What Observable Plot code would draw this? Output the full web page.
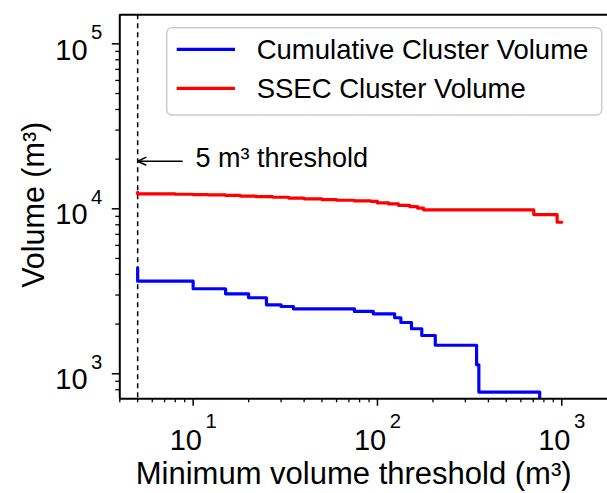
<!DOCTYPE html>
<html><head><meta charset="utf-8">
<script src="https://cdn.jsdelivr.net/npm/d3@7"></script>
<script src="https://cdn.jsdelivr.net/npm/@observablehq/plot@0.6"></script>
<style>
body{margin:0;background:#fff;}
#chart{position:relative;width:607px;height:493px;}
</style></head><body><div id="chart"></div>
<script>
// ---- data ----
const seriesNames = ["Cumulative Cluster Volume", "SSEC Cluster Volume"];
const seriesColors = ["#0000ff", "#ff0000"];
const cumX = [5, 5, 10, 15, 20, 25, 30, 35, 75, 95, 124, 134, 153, 174, 206, 345, 355, 759];
const cumY = [4385, 3640, 3275, 3054, 2890, 2619, 2557, 2477, 2387, 2310, 2185, 2045, 1875, 1706, 1489, 1134, 774, 600];
const ssecX = [5, 5, 8, 10, 12, 15, 18, 22, 27, 33, 40, 50, 60, 75, 92, 100, 115, 130, 150, 165, 178, 705, 944, 1000];
const ssecY = [12600, 12330, 12250, 12200, 12150, 12050, 11950, 11850, 11750, 11620, 11500, 11380, 11270, 11180, 11100, 10850, 10700, 10500, 10300, 10100, 9860, 9230, 8290, 8290];
const thresholdX = [5];
const xMajorTicks = [10, 100, 1000];
const xMinorTicks = [4, 5, 6, 7, 8, 9, 20, 30, 40, 50, 60, 70, 80, 90, 200, 300, 400, 500, 600, 700, 800, 900];
const yMajorTicks = [1000, 10000, 100000];
const yMinorTicks = [800, 900, 2000, 3000, 4000, 5000, 6000, 7000, 8000, 9000, 20000, 30000, 40000, 50000, 60000, 70000, 80000, 90000];
const xDomain = [4, 1771];
const yDomain = [705, 150000];
const xLabel = "Minimum volume threshold (m³)";
const yLabel = "Volume (m³)";
const annotation = [{text: "5 m³ threshold", x: 8.72, y: 19430, tipX: 5}];

const cum = cumX.map((x, i) => ({x, y: cumY[i]}));
const ssec = ssecX.map((x, i) => ({x, y: ssecY[i]}));
const FONT = "'Liberation Sans', Arial, Helvetica, sans-serif";

const sup = d => "10^" + Math.round(Math.log10(d));

const chart = Plot.plot({
  width: 607, height: 493,
  marginLeft: 119.3, marginRight: 0, marginTop: 14.3, marginBottom: 94.7,
  style: {fontFamily: FONT, fontSize: "28px", color: "black", background: "white", overflow: "visible"},
  x: {type: "log", domain: xDomain, label: null},
  y: {type: "log", domain: yDomain, label: null},
  marks: [
    Plot.ruleX(thresholdX, {stroke: "black", strokeWidth: 1.5, strokeDasharray: "5,4"}),
    Plot.line(cum, {x: "x", y: "y", curve: "step-after", stroke: seriesColors[0], strokeWidth: 3.2, clip: true}),
    Plot.line(ssec, {x: "x", y: "y", curve: "step-after", stroke: seriesColors[1], strokeWidth: 3.2, clip: true}),
    Plot.arrow(annotation, {x1: "x", y1: "y", x2: "tipX", y2: "y", stroke: "black", strokeWidth: 1.5, headLength: 9, headAngle: 50}),
    Plot.text(annotation, {x: "x", y: "y", text: "text", textAnchor: "start", dx: 13.3, dy: -2.6, fontSize: 27, fill: "black"}),
    Plot.axisX(xMinorTicks, {anchor: "bottom", tickSize: 4, strokeWidth: 1.3, fill: "none", tickFormat: () => "", label: null}),
    Plot.axisX(xMajorTicks, {anchor: "bottom", tickSize: 7.5, strokeWidth: 1.5, tickPadding: 23, fontSize: 29, tickFormat: sup, label: null}),
    Plot.axisY(yMinorTicks, {anchor: "left", tickSize: 4, strokeWidth: 1.3, fill: "none", tickFormat: () => "", label: null}),
    Plot.axisY(yMajorTicks, {anchor: "left", tickSize: 7.5, strokeWidth: 1.5, tickPadding: 10, fontSize: 29, tickFormat: sup, label: null}),
    Plot.ruleY([yDomain[1]], {stroke: "black", strokeWidth: 2}),
    Plot.ruleY([yDomain[0]], {stroke: "black", strokeWidth: 2}),
    Plot.ruleX([xDomain[0]], {stroke: "black", strokeWidth: 2}),
    Plot.text([xLabel], {frameAnchor: "bottom", text: d => d, dy: 85, dx: -10, lineAnchor: "bottom", textAnchor: "middle", fontSize: 31, fill: "black"}),
    Plot.text([yLabel], {frameAnchor: "left", text: d => d, rotate: -90, dx: -76.3, dy: -2, lineAnchor: "bottom", textAnchor: "middle", fontSize: 30.5, fill: "black"})
  ]
});

// superscript tick labels
const NS = "http://www.w3.org/2000/svg";
d3.select(chart).selectAll("text").each(function () {
  const m = /^10\^(\d+)$/.exec(this.textContent);
  if (!m) return;
  const isY = (this.parentNode.getAttribute("aria-label") || "").includes("y-axis");
  this.textContent = "";
  this.setAttribute("text-anchor", isY ? "end" : "middle");
  const a = document.createElementNS(NS, "tspan");
  a.textContent = "10";
  if (isY) a.setAttribute("dy", "6.4");
  const b = document.createElementNS(NS, "tspan");
  b.textContent = m[1];
  b.setAttribute("dy", isY ? "-20.5" : "-22");
  b.setAttribute("dx", "3.5");
  b.setAttribute("font-size", "20.3");
  this.appendChild(a);
  this.appendChild(b);
});

// legend
const lg = d3.select(chart).append("g").attr("font-family", FONT).attr("font-size", 27.5).attr("text-anchor", "start");
lg.append("rect").attr("x", 166.7).attr("y", 27.7).attr("width", 435).attr("height", 87.3).attr("rx", 5)
  .attr("fill", "white").attr("fill-opacity", 0.8).attr("stroke", "#cccccc").attr("stroke-width", 1.5);
seriesNames.forEach((name, i) => {
  const cy = 49.3 + i * 39;
  lg.append("line").attr("x1", 176.7).attr("x2", 235).attr("y1", cy).attr("y2", cy)
    .attr("stroke", seriesColors[i]).attr("stroke-width", 3.2);
  lg.append("text").attr("x", 256.7).attr("y", cy + 10).attr("fill", "black").attr("text-anchor", "start").text(name);
});

document.getElementById("chart").appendChild(chart);
</script></body></html>
